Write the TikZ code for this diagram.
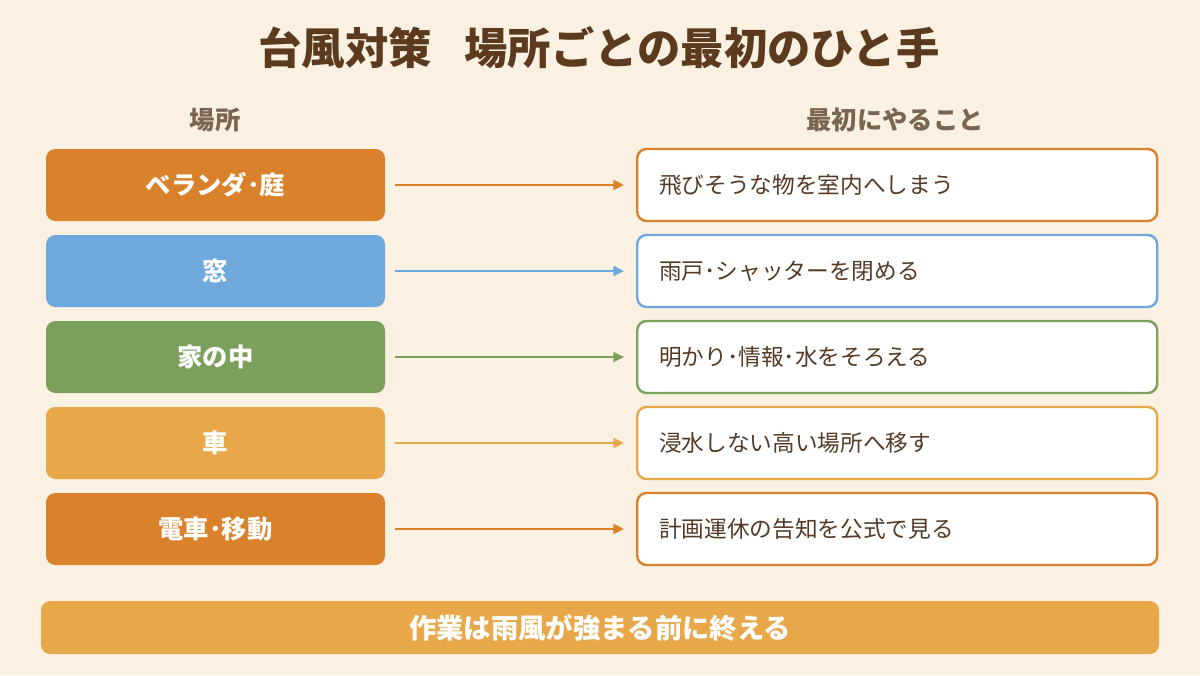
\documentclass[tikz,border=0pt]{standalone}
\usepackage{fontspec}
\setmainfont{Noto Sans CJK JP}
\usetikzlibrary{arrows.meta,positioning}
\definecolor{bgcream}{HTML}{FAF1E3}
\definecolor{titlebrown}{HTML}{5B3A1E}
\definecolor{headgray}{HTML}{7A6552}
\definecolor{actbrown}{HTML}{553A25}
\definecolor{orangeA}{HTML}{D9822B}
\definecolor{blueA}{HTML}{6FA8DC}
\definecolor{greenA}{HTML}{7BA05B}
\definecolor{orangeB}{HTML}{E8A84A}
\tikzset{
  placebox/.style={rounded corners=7pt,minimum width=254.25pt,minimum height=54pt,
    text=white,font=\fontsize{19}{22}\selectfont\bfseries},
  actbox/.style={draw,line width=1.8pt,fill=white,rounded corners=7pt,minimum height=54pt,
    text width=357pt,inner xsep=16.5pt,align=left,text=actbrown,font=\fontsize{17}{20}\selectfont},
  flowarrow/.style={line width=1.6pt,-{Triangle[length=8pt,width=7.5pt]},shorten <=7.5pt,shorten >=9pt}
}
\begin{document}
\begin{tikzpicture}[x=0.75pt,y=-0.75pt]
  % background
  \fill[bgcream] (0,0) rectangle (1200,675);
  \node[font=\fontsize{32.5}{36}\selectfont\bfseries,text=titlebrown] (title) at (599,48) {台風対策\hspace{0.75em}場所ごとの最初のひと手};
  % column heads
  \node[font=\fontsize{19}{22}\selectfont\bfseries,text=headgray] (headL) at (215,120) {場所};
  \node[font=\fontsize{19}{22}\selectfont\bfseries,text=headgray] (headR) at (895,120) {最初にやること};
  % rows
  \foreach \i/\place/\act/\col/\y in {
      1/ベランダ･庭/飛びそうな物を室内へしまう/orangeA/185,
      2/窓/雨戸･シャッターを閉める/blueA/271,
      3/家の中/明かり･情報･水をそろえる/greenA/357,
      4/車/浸水しない高い場所へ移す/orangeB/443,
      5/電車･移動/計画運休の告知を公式で見る/orangeA/529}{
    \node[placebox,fill=\col] (L\i) at (215.5,\y) {\place};
    \node[actbox,draw=\col,anchor=west] (R\i) at (636,\y) {\act};
    \draw[flowarrow,\col] (L\i) -- (R\i);
  }
  % bottom note
  \node[fill=orangeB,rounded corners=7pt,minimum width=838.5pt,minimum height=39.75pt,
    text=white,font=\fontsize{20.5}{24}\selectfont\bfseries] (note) at (600,627.5) {作業は雨風が強まる前に終える};
\end{tikzpicture}
\end{document}
